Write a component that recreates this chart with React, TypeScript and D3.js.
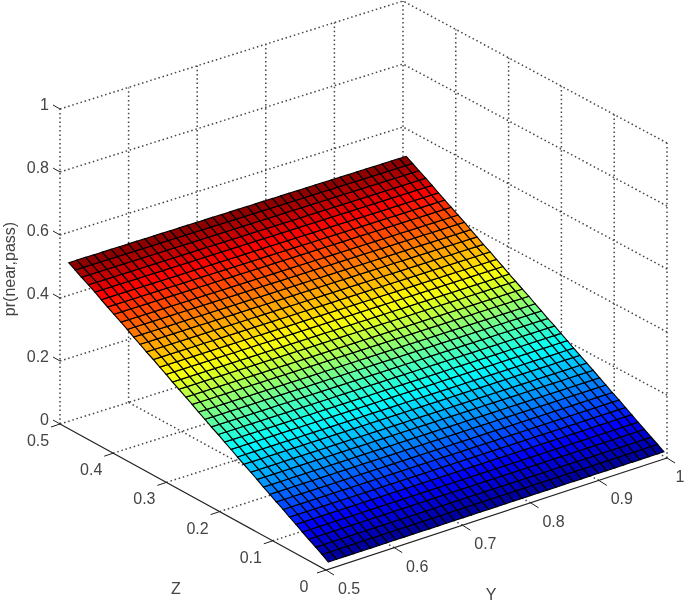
import React from 'react';
import * as d3 from 'd3';

const yTicks = [0.5, 0.6, 0.7, 0.8, 0.9, 1];
const zTicks = [0, 0.1, 0.2, 0.3, 0.4, 0.5];
const pTicks = [0, 0.2, 0.4, 0.6, 0.8, 1];

// surface samples
const yValues = [
  0.505, 0.517, 0.53, 0.542, 0.554, 0.567, 0.579, 0.592, 0.604, 0.616, 0.629, 0.641, 0.653, 0.666,
  0.678, 0.69, 0.703, 0.715, 0.728, 0.74, 0.752, 0.765, 0.777, 0.789, 0.802, 0.814, 0.826, 0.839,
  0.851, 0.864, 0.876, 0.888, 0.901, 0.913, 0.925, 0.938, 0.95, 0.962, 0.975, 0.987, 0.997,
];
const zValues = [
  0.002, 0.014, 0.026, 0.039, 0.051, 0.063, 0.075, 0.087, 0.1, 0.112, 0.124, 0.136, 0.148, 0.161,
  0.173, 0.185, 0.197, 0.209, 0.222, 0.234, 0.246, 0.258, 0.27, 0.283, 0.295, 0.307, 0.319, 0.331,
  0.344, 0.356, 0.368, 0.38, 0.392, 0.405, 0.417, 0.429, 0.441, 0.453, 0.466, 0.478, 0.49,
];
const pValues = [
  0.02, 0.033, 0.045, 0.058, 0.07, 0.083, 0.095, 0.108, 0.12, 0.133, 0.145, 0.158, 0.17, 0.183,
  0.195, 0.208, 0.22, 0.233, 0.245, 0.258, 0.27, 0.283, 0.295, 0.308, 0.32, 0.333, 0.345, 0.358,
  0.37, 0.383, 0.395, 0.408, 0.42, 0.433, 0.445, 0.457, 0.47, 0.482, 0.494, 0.506, 0.518,
];

const jetColors = ['#00008f', '#0000ff', '#00ffff', '#ffff00', '#ff0000', '#800000'];
const jetStops = [0, 0.111, 0.375, 0.625, 0.889, 1];

// floor corners of the axes box on screen
const front: [number, number] = [326, 570];
const right: [number, number] = [667, 458];
const left: [number, number] = [60, 424];
const back: [number, number] = [403, 316];

const yFrac = d3.scaleLinear().domain([0.5, 1]).range([0, 1]);
const zFrac = d3.scaleLinear().domain([0, 0.5]).range([0, 1]);
const pPx = d3.scaleLinear().domain([0, 1]).range([0, 315]);

const project = (y: number, z: number, p: number): [number, number] => {
  const t = yFrac(y);
  const s = zFrac(z);
  const px = (1 - t) * (1 - s) * front[0] + t * (1 - s) * right[0] + (1 - t) * s * left[0] + t * s * back[0];
  const py = (1 - t) * (1 - s) * front[1] + t * (1 - s) * right[1] + (1 - t) * s * left[1] + t * s * back[1];
  return [px, py - pPx(p)];
};

const App = () => {
  const color = d3
    .scaleLinear<string>()
    .domain(jetStops.map(d => d3.min(pValues)! + d * (d3.max(pValues)! - d3.min(pValues)!)))
    .range(jetColors);

  const line = d3.line();
  const grid = (pts: [number, number][], key: string) => (
    <path key={key} d={line(pts)!} fill="none" stroke="#444" strokeWidth={1.5} strokeDasharray="1.5 2.8" />
  );

  const faces: React.ReactNode[] = [];
  zValues.slice(0, -1).forEach((z, i) => {
    yValues.slice(0, -1).forEach((y, j) => {
      const pts = [
        project(y, z, pValues[i]),
        project(yValues[j + 1], z, pValues[i]),
        project(yValues[j + 1], zValues[i + 1], pValues[i + 1]),
        project(y, zValues[i + 1], pValues[i + 1]),
      ];
      faces.push(
        <path
          key={`${i}-${j}`}
          d={line(pts)! + 'Z'}
          fill={color((pValues[i] + pValues[i + 1]) / 2)}
          stroke="#000"
          strokeWidth={1.15}
        />,
      );
    });
  });

  const textStyle = { fontFamily: '"Liberation Sans", Arial, sans-serif', fontSize: 16, fill: '#444' };

  return (
    <svg width={685} height={603} style={{ position: 'absolute', left: 0, top: 0, display: 'block', background: '#fff' }}>
      <defs>
        <filter id="soft" x="0" y="0" width="100%" height="100%">
          <feGaussianBlur stdDeviation="0.7" />
        </filter>
      </defs>
      <g filter="url(#soft)">
        <rect width={685} height={603} fill="#fff" />
        {/* floor grid */}
        {yTicks.slice(1).map(y => grid([project(y, 0, 0), project(y, 0.5, 0)], `fy${y}`))}
        {zTicks.slice(1).map(z => grid([project(0.5, z, 0), project(1, z, 0)], `fz${z}`))}
        {/* back walls */}
        {yTicks.map(y => grid([project(y, 0.5, 0), project(y, 0.5, 1)], `wy${y}`))}
        {zTicks.slice(0, -1).map(z => grid([project(1, z, 0), project(1, z, 1)], `wz${z}`))}
        {pTicks.slice(1).map(p =>
          grid([project(0.5, 0.5, p), project(1, 0.5, p), project(1, 0, p)], `wp${p}`),
        )}

        {faces}

        {/* axes */}
        <path d={line([left, front, right])!} fill="none" stroke="#222" strokeWidth={1.2} />
        {zTicks.map(z => {
          const [x, y] = project(0.5, z, 0);
          return (
            <g key={`zt${z}`}>
              <path d={`M${x},${y}l-9,3`} stroke="#222" fill="none" />
              <text x={x - 22} y={y + 22} textAnchor="middle" style={textStyle}>{z}</text>
            </g>
          );
        })}
        {yTicks.map(t => {
          const [x, y] = project(t, 0, 0);
          return (
            <g key={`yt${t}`}>
              <path d={`M${x},${y}l8,5`} stroke="#222" fill="none" />
              <text x={Math.min(x + 23, 680)} y={y + 24} textAnchor="middle" style={textStyle}>{t}</text>
            </g>
          );
        })}
        {pTicks.map(p => {
          const [x, y] = project(0.5, 0.5, p);
          return (
            <g key={`pt${p}`}>
              <path d={`M${x},${y}l-7,-4`} stroke="#222" fill="none" />
              <text x={x - 11} y={y + 1} textAnchor="end" style={textStyle}>{p}</text>
            </g>
          );
        })}
        <text x={176} y={594} textAnchor="middle" style={textStyle}>Z</text>
        <text x={491} y={599.5} textAnchor="middle" style={textStyle}>Y</text>
        <text transform="translate(15,269) rotate(-90)" textAnchor="middle" style={textStyle}>pr(near,pass)</text>
      </g>
    </svg>
  );
};

export default App;
